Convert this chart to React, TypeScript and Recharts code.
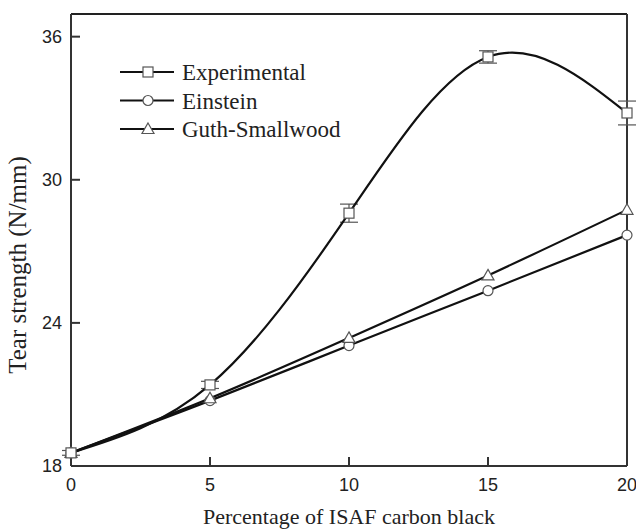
import React from 'react';
import {
  LineChart,
  Line,
  XAxis,
  YAxis,
  ErrorBar,
  ReferenceLine,
  Legend,
} from 'recharts';

// carbon black loading (phr %)
const loading = [0, 5, 10, 15, 20];
const experimental = [18.55, 21.4, 28.6, 35.15, 32.8];
const experimentalErr = [0.1, 0.15, 0.38, 0.26, 0.5];
const einstein = [18.55, 20.74, 23.05, 25.35, 27.68];
const guthSmallwood = [18.55, 20.84, 23.37, 25.99, 28.74];

const xTicks = [0, 5, 10, 15, 20];
const yTicks = [18, 24, 30, 36];

const data = loading.map((x, i) => ({
  x,
  exp: experimental[i],
  expErr: experimentalErr[i],
  ein: einstein[i],
  guth: guthSmallwood[i],
}));

const MARK = '#555';
const SERIF = '"Liberation Serif", "Times New Roman", serif';
const SANS = '"Liberation Sans", Arial, sans-serif';

const Square = (props: any) => {
  const { cx, cy } = props;
  if (cx == null || cy == null) return null;
  return <rect x={cx - 5} y={cy - 5} width={10} height={10} fill="#fff" stroke={MARK} strokeWidth={1.2} />;
};

const Circle = (props: any) => {
  const { cx, cy } = props;
  if (cx == null || cy == null) return null;
  return <circle cx={cx} cy={cy} r={5} fill="#fff" stroke={MARK} strokeWidth={1.2} />;
};

const Triangle = (props: any) => {
  const { cx, cy } = props;
  if (cx == null || cy == null) return null;
  return (
    <path
      d={`M${cx},${cy - 6} L${cx + 6},${cy + 4.5} L${cx - 6},${cy + 4.5} Z`}
      fill="#fff"
      stroke={MARK}
      strokeWidth={1.2}
    />
  );
};

const legendItems = [
  { name: 'Experimental', Mark: Square },
  { name: 'Einstein', Mark: Circle },
  { name: 'Guth-Smallwood', Mark: Triangle },
];

const LegendBox = () => (
  <svg width={250} height={92}>
    {legendItems.map(({ name, Mark }, i) => {
      const y = 14 + i * 28.5;
      return (
        <g key={name}>
          <line x1={0} x2={54} y1={y} y2={y} stroke="#111" strokeWidth={2} />
          <Mark cx={28} cy={y} />
          <text x={62} y={y + 8} fontFamily={SERIF} fontSize={23} fill="#222">
            {name}
          </text>
        </g>
      );
    })}
  </svg>
);

export default function App() {
  return (
    <div style={{ position: 'absolute', left: 0, top: 0, background: '#fff' }}>
      <LineChart width={636} height={530} data={data} margin={{ top: 14, right: 9, left: 0, bottom: 0 }}>
        <XAxis
          dataKey="x"
          type="number"
          domain={[0, 20]}
          ticks={xTicks}
          height={64}
          stroke="#333"
          strokeWidth={2}
          tickSize={-9}
          tickMargin={21}
          tick={{ fill: '#222', fontSize: 18, fontFamily: SANS }}
          label={{
            content: () => (
              <text x={349} y={524} textAnchor="middle" fontFamily={SERIF} fontSize={22} fill="#222">
                Percentage of ISAF carbon black
              </text>
            ),
          }}
        />
        <YAxis
          type="number"
          domain={[18, 36.95]}
          ticks={yTicks}
          width={71}
          stroke="#333"
          strokeWidth={2}
          tickSize={-9}
          tickMargin={18}
          tick={{ fill: '#222', fontSize: 18, fontFamily: SANS }}
          label={{
            content: () => (
              <text
                x={26}
                y={265}
                transform="rotate(-90 26 265)"
                textAnchor="middle"
                fontFamily={SERIF}
                fontSize={25}
                fill="#222"
              >
                Tear strength (N/mm)
              </text>
            ),
          }}
        />
        <ReferenceLine y={36.95} stroke="#222" strokeWidth={2} />
        <ReferenceLine x={20} stroke="#333" strokeWidth={2} />
        <Legend
          content={<LegendBox />}
          wrapperStyle={{ left: 120, top: 58, width: 250 }}
          layout="vertical"
          align="center"
          verticalAlign="middle"
        />
        <Line
          dataKey="ein"
          name="Einstein"
          type="natural"
          stroke="#111"
          strokeWidth={2.2}
          dot={<Circle />}
          activeDot={false}
          isAnimationActive={false}
        />
        <Line
          dataKey="guth"
          name="Guth-Smallwood"
          type="natural"
          stroke="#111"
          strokeWidth={2.2}
          dot={<Triangle />}
          activeDot={false}
          isAnimationActive={false}
        />
        <Line
          dataKey="exp"
          name="Experimental"
          type="natural"
          stroke="#111"
          strokeWidth={2.2}
          dot={<Square />}
          activeDot={false}
          isAnimationActive={false}
        >
          <ErrorBar dataKey="expErr" direction="y" width={9} stroke={MARK} strokeWidth={1.2} isAnimationActive={false} />
        </Line>
      </LineChart>
    </div>
  );
}
